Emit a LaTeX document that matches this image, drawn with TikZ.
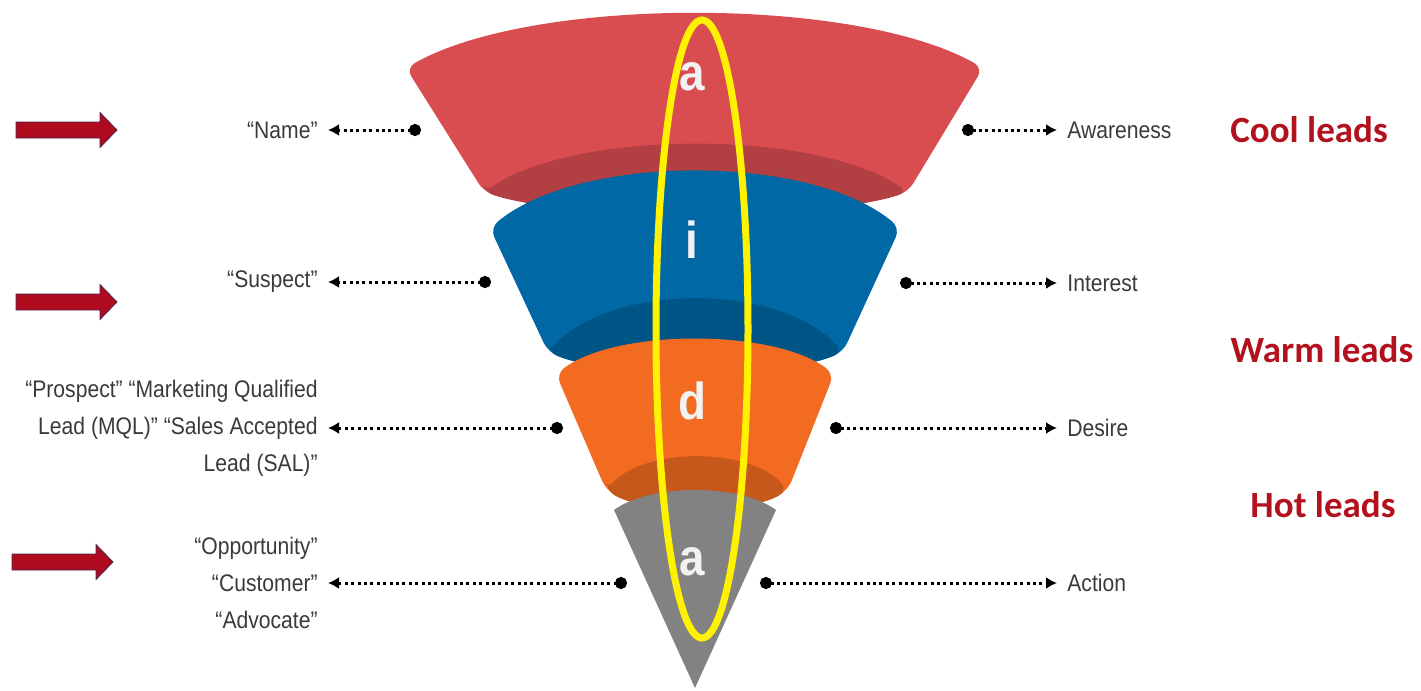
\documentclass[tikz,border=0pt]{standalone}
\usepackage{fontspec}
\newfontfamily\narrowsans[FakeStretch=0.88]{Liberation Sans}
\newfontfamily\leadfont{Carlito}
\usetikzlibrary{arrows.meta}
\definecolor{funnelred}{RGB}{217,77,81}
\definecolor{funnelblue}{RGB}{0,104,165}
\definecolor{funnelorange}{RGB}{242,107,33}
\definecolor{funnelgrey}{RGB}{130,130,130}
\definecolor{txtgrey}{RGB}{58,58,58}
\definecolor{leadred}{RGB}{178,18,30}
\definecolor{arrowred}{RGB}{175,10,30}
\definecolor{arrowedge}{RGB}{70,40,80}

\tikzset{
  lead/.style={line width=1.5pt, dash pattern=on 1.5pt off 1.7pt,
    {Circle[length=6pt,width=6pt]}-{Latex[length=5.5pt,width=6pt]}},
  lefttxt/.style={anchor=east, align=right, inner xsep=5pt, text=txtgrey,
    font=\narrowsans\fontsize{12}{18.5}\selectfont},
  righttxt/.style={anchor=west, inner xsep=5pt, text=txtgrey,
    font=\narrowsans\fontsize{12}{18.5}\selectfont},
  leadtxt/.style={text=leadred, font=\leadfont\bfseries\fontsize{18.5}{22}\selectfont},
  stagetxt/.style={text=white!95!black, font=\narrowsans\bfseries\fontsize{26}{26}\selectfont}
}

\begin{document}
\begin{tikzpicture}[x=0.5pt,y=-0.5pt]
  \useasboundingbox (0,0) rectangle (1421,691);

  % funnel segments: top corners, top peak, bottom corners, bottom peak, band peak
  \foreach \tl/\tr/\ty/\tp/\bl/\br/\by/\bp/\dp/\col in {
      406/983/68/14/484/908/192/214/145/funnelred,
      490/900/228/172/548/843/352/372/300/funnelblue,
      556/834/374/340/606/788/490/508/458/funnelorange}{
    \fill[\col, rounded corners=5pt] (\tl,\ty)
      .. controls ({\tl+0.22*(\tr-\tl)},{(4*\tp-\ty)/3}) and ({\tr-0.22*(\tr-\tl)},{(4*\tp-\ty)/3}) .. (\tr,\ty)
      -- (\br,\by)
      .. controls ({\br-0.22*(\br-\bl)},{(4*\bp-\by)/3}) and ({\bl+0.22*(\br-\bl)},{(4*\bp-\by)/3}) .. (\bl,\by)
      -- cycle;
    \fill[\col!82!black, rounded corners=5pt] (\bl,\by)
      .. controls ({\bl+0.22*(\br-\bl)},{(4*\dp-\by)/3}) and ({\br-0.22*(\br-\bl)},{(4*\dp-\by)/3}) .. (\br,\by)
      .. controls ({\br-0.22*(\br-\bl)},{(4*\bp-\by)/3}) and ({\bl+0.22*(\br-\bl)},{(4*\bp-\by)/3}) .. (\bl,\by)
      -- cycle;
  }
  \fill[funnelgrey] (614,510) .. controls (650,{(4*490-510)/3}) and (740,{(4*490-510)/3}) .. (776,510)
    -- (695,688) -- cycle;

  % stage letters
  \node[stagetxt] (sAware) at (692,77) {a};
  \node[stagetxt] (sInter) at (692,240) {i};
  \node[stagetxt] (sDesire) at (692,401) {d};
  \node[stagetxt] (sAction) at (692,562) {a};

  % highlight
  \draw[yellow, line width=3.5pt] (702,329) ellipse [x radius=23pt, y radius=154.5pt];

  % left labels
  \coordinate (dName) at (421,130);
  \coordinate (dSuspect) at (491,282);
  \coordinate (dProspect) at (563,428);
  \coordinate (dOpp) at (627,583);
  \node[lefttxt] (tName) at (328,130) {“Name”};
  \node[lefttxt] (tSuspect) at (328,282) {“Suspect”};
  \node[lefttxt] (tProspect) at (328,428) {“Prospect” “Marketing Qualified\\Lead (MQL)” “Sales Accepted\\Lead (SAL)”};
  \node[lefttxt] (tOpp) at (328,583) {“Opportunity”\\“Customer”\\“Advocate”};
  \draw[lead] (dName) -- (tName.east);
  \draw[lead] (dSuspect) -- (tSuspect.east);
  \draw[lead] (dProspect) -- (tProspect.east);
  \draw[lead] (dOpp) -- (tOpp.east);

  % right labels
  \coordinate (dAware) at (962,130);
  \coordinate (dInter) at (900,283);
  \coordinate (dDesire) at (830,428);
  \coordinate (dAction) at (760,583);
  \node[righttxt] (tAware) at (1057,130) {Awareness};
  \node[righttxt] (tInter) at (1057,283) {Interest};
  \node[righttxt] (tDesire) at (1057,428) {Desire};
  \node[righttxt] (tAction) at (1057,583) {Action};
  \draw[lead] (dAware) -- (tAware.west);
  \draw[lead] (dInter) -- (tInter.west);
  \draw[lead] (dDesire) -- (tDesire.west);
  \draw[lead] (dAction) -- (tAction.west);

  % lead temperature
  \node[leadtxt] (cool) at (1309,130) {Cool leads};
  \node[leadtxt] (warm) at (1322,350) {Warm leads};
  \node[leadtxt] (hot) at (1323,505) {Hot leads};

  % red pointers
  \foreach \x/\y in {16/130,16/302,12/562}{
    \filldraw[fill=arrowred, draw=arrowedge, line width=0.4pt] (\x,\y-8) -- ++(84,0) -- ++(0,-9.5)
      -- (\x+101,\y) -- (\x+84,\y+17.5) -- ++(0,-9.5) -- (\x,\y+8) -- cycle;
  }
\end{tikzpicture}
\end{document}
